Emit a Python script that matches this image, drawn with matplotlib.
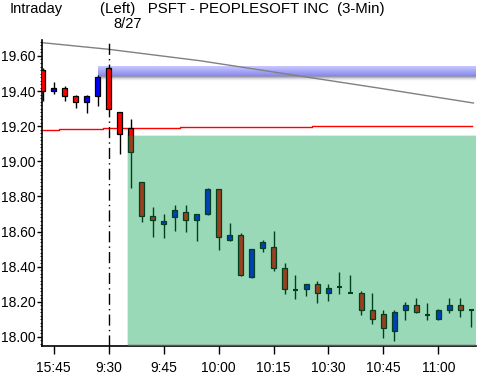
import numpy as np
import matplotlib
matplotlib.use("Agg")
import matplotlib.pyplot as plt
from matplotlib.patches import Rectangle

FONT = ['Liberation Sans', 'DejaVu Sans']

# 3-min bars, index 0 = 15:42 prev day, index 6 = 9:30 open
opens = [19.520, 19.402, 19.416, 19.372, 19.340, 19.374, 19.532, 19.279, 19.188, 18.880,
         18.687, 18.644, 18.685, 18.709, 18.664, 18.700, 18.840, 18.553, 18.578, 18.342,
         18.504, 18.510, 18.390, 18.267, 18.274, 18.301, 18.251, 18.285, 18.248, 18.250,
         18.151, 18.130, 18.035, 18.154, 18.179, 18.126, 18.103, 18.154, 18.181, 18.151]
highs = [19.532, 19.450, 19.431, 19.378, 19.378, 19.492, 19.535, 19.280, 19.241, 18.880,
         18.738, 18.698, 18.751, 18.751, 18.698, 18.848, 18.840, 18.648, 18.590, 18.500,
         18.552, 18.603, 18.420, 18.352, 18.300, 18.318, 18.301, 18.369, 18.352, 18.261,
         18.251, 18.153, 18.153, 18.198, 18.219, 18.192, 18.157, 18.219, 18.219, 18.151]
lows = [19.345, 19.385, 19.345, 19.305, 19.277, 19.317, 19.300, 19.042, 18.846, 18.656,
        18.567, 18.561, 18.605, 18.599, 18.548, 18.694, 18.495, 18.548, 18.348, 18.335,
        18.485, 18.377, 18.246, 18.217, 18.232, 18.194, 18.206, 18.244, 18.248, 18.124,
        18.075, 17.995, 17.978, 18.097, 18.137, 18.097, 18.097, 18.137, 18.114, 18.058]
closes = [19.402, 19.416, 19.374, 19.340, 19.372, 19.482, 19.300, 19.154, 19.051, 18.687,
          18.664, 18.658, 18.721, 18.664, 18.698, 18.840, 18.567, 18.578, 18.354, 18.499,
          18.538, 18.394, 18.274, 18.267, 18.299, 18.251, 18.276, 18.285, 18.248, 18.154,
          18.103, 18.052, 18.140, 18.181, 18.143, 18.126, 18.151, 18.181, 18.154, 18.151]

tick_pos = [1, 6, 11, 16, 21, 26, 31, 36]
tick_labels = ['15:45', '9:30', '9:45', '10:00', '10:15', '10:30', '10:45', '11:00']
y_ticks = [18.00, 18.20, 18.40, 18.60, 18.80, 19.00, 19.20, 19.40, 19.60]

# moving average (gray) vertices
ma_x = [-0.1, 6, 14.3, 30.7, 39.2]
ma_y = [19.676, 19.638, 19.573, 19.416, 19.332]
# red stepped line
red_x = [-0.1, 1.5, 5.5, 12.5, 24.5, 39.1]
red_y = [19.178, 19.182, 19.188, 19.193, 19.199, 19.199]

# zones
blue_lo, blue_hi, blue_x0 = 19.482, 19.539, 5.06
green_hi, green_x0 = 19.144, 7.8
open_idx = 6

fig = plt.figure(figsize=(4.82, 3.83), dpi=100)
ax = fig.add_axes([41.7/482, 37/383, (476-41.7)/482, (346-40)/383])
xmin, xmax = -0.1, 39.43
ymin, ymax = 17.948, 19.691
ax.set_xlim(xmin, xmax)
ax.set_ylim(ymin, ymax)

# blue resistance band with soft shadow
grad = np.linspace(0, 1, 30)
cols = np.zeros((30, 1, 4))
for i, g in enumerate(grad):
    if g < 0.65:
        t = g / 0.65
        cols[i, 0] = [0.78 - 0.26*t, 0.78 - 0.26*t, 1.0 - 0.08*t, 1]
    else:
        t = (g - 0.65) / 0.35
        cols[i, 0] = [0.55 + 0.45*t, 0.55 + 0.45*t, 0.6 + 0.4*t, 1 - t]
ax.imshow(cols, extent=[blue_x0, xmax, blue_lo - 0.03, blue_hi], aspect='auto',
          origin='upper', zorder=1, interpolation='bilinear')

ax.plot(ma_x, ma_y, color='#808080', lw=1, zorder=2)
ax.step(red_x, red_y, where='post', color='#ff0000', lw=1, zorder=2)
ax.axvline(open_idx, color='black', lw=1, ls=(0, (8, 3, 1, 3)), zorder=2)

# candles
w = 0.45
for i in range(len(opens)):
    o, h, l, c = opens[i], highs[i], lows[i], closes[i]
    ax.vlines(i, l, h, color='black', lw=1, zorder=3)
    if abs(c - o) < 0.002:
        ax.hlines(o, i - w/2, i + w/2, color='black', lw=1.5, zorder=4)
    else:
        col = '#0000ff' if c > o else '#ff0000'
        ax.add_patch(Rectangle((i - w/2, min(o, c)), w, abs(c - o), facecolor=col,
                               edgecolor='black', lw=0.9, zorder=4))

# green support zone overlay (translucent, soft edges)
gc = (0.0, 0.635, 0.305)
ax.add_patch(Rectangle((green_x0, ymin), xmax - green_x0, green_hi - ymin,
                       facecolor=gc, alpha=0.4, lw=0, zorder=5))
ax.add_patch(Rectangle((green_x0 - 0.12, ymin), 0.12, green_hi - ymin + 0.008,
                       facecolor=gc, alpha=0.15, lw=0, zorder=5))
ax.add_patch(Rectangle((green_x0, green_hi), xmax - green_x0, 0.008,
                       facecolor=gc, alpha=0.15, lw=0, zorder=5))
ax.add_patch(Rectangle((green_x0, ymin), xmax - green_x0, 0.012,
                       facecolor='#808080', alpha=0.35, lw=0, zorder=5))

for s in ['top', 'right']:
    ax.spines[s].set_visible(False)
ax.spines['left'].set_linewidth(1.2)
ax.spines['bottom'].set_linewidth(1.2)

ax.set_yticks(y_ticks)
ax.set_yticklabels(['%.2f' % v for v in y_ticks], fontsize=10, family=FONT)
ax.set_yticks(np.arange(17.96, 19.69, 0.02), minor=True)
ax.tick_params(axis='y', which='major', direction='out', length=3.6, width=1, pad=1)
ax.tick_params(axis='y', which='minor', direction='out', length=1.5, width=0.6)
ax.set_xticks(tick_pos)
ax.set_xticklabels(tick_labels, fontsize=10, family=FONT)
ax.tick_params(axis='x', direction='out', length=6, width=1, pad=5)

fig.text(10/482, 1 - 2/383, 'Intraday', fontsize=10.5, family=FONT, va='top', ha='left')
fig.text(100/482, 1 - 2/383, '(Left)   PSFT - PEOPLESOFT INC  (3-Min)', fontsize=10.8,
         family=FONT, va='top', ha='left')
fig.text(113/482, 1 - 17/383, '8/27', fontsize=10.5, family=FONT, va='top', ha='left')

fig.savefig('out.png', dpi=100)
